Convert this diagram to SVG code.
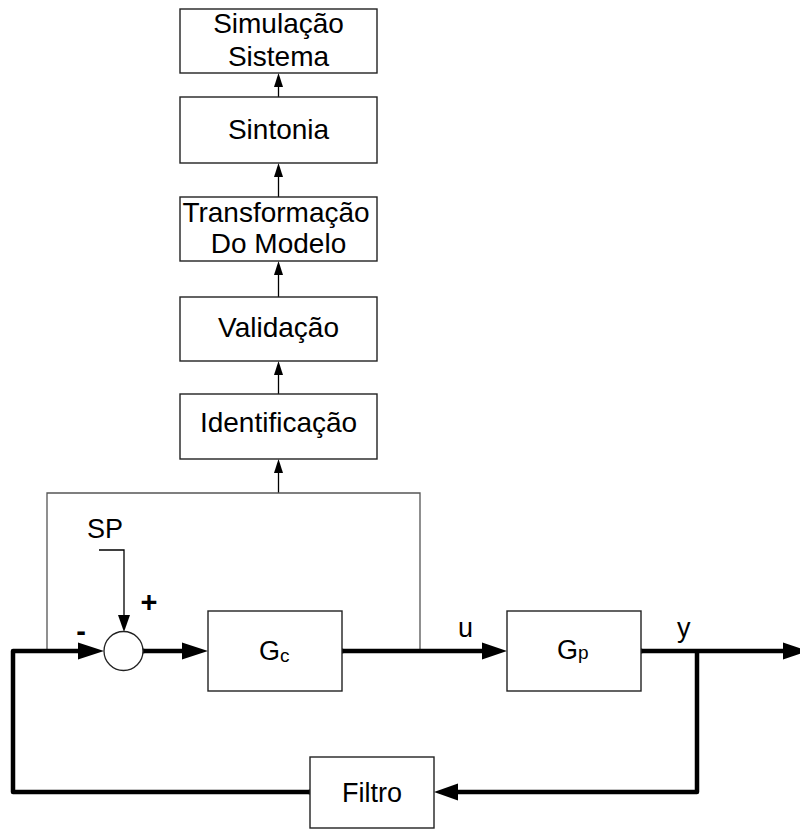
<svg xmlns="http://www.w3.org/2000/svg" width="800" height="830" viewBox="0 0 800 830">
  <style>
    .box { fill: #ffffff; stroke: #222222; stroke-width: 1.4; }
    .lbl { font-family: "Liberation Sans", Arial, sans-serif; font-size: 27px; fill: #000000; }
    .big { font-size: 28px; }
    .mid { text-anchor: middle; }
    .thin { fill: none; stroke: #000000; stroke-width: 1.3; }
    .grey { fill: none; stroke: #555555; stroke-width: 1.3; }
    .thick { fill: none; stroke: #000000; stroke-width: 4.5; stroke-linejoin: round; }
    .head { fill: #000000; }
    .sign { font-family: "Liberation Sans", Arial, sans-serif; font-weight: bold; font-size: 29px; fill: #000000; text-anchor: middle; }
  </style>

  <rect width="800" height="830" fill="#ffffff"/>

  <!-- connectors -->
  <g id="connectors">
    <!-- chain of processing steps (upward arrows) -->
    <line class="thin" x1="278.5" y1="97" x2="278.5" y2="85"/>
    <polygon class="head" points="278.5,73 274,87 283,87"/>
    <line class="thin" x1="278.5" y1="197" x2="278.5" y2="175"/>
    <polygon class="head" points="278.5,163 274,177 283,177"/>
    <line class="thin" x1="278.5" y1="297" x2="278.5" y2="273"/>
    <polygon class="head" points="278.5,261 274,275 283,275"/>
    <line class="thin" x1="278.5" y1="394" x2="278.5" y2="373"/>
    <polygon class="head" points="278.5,361 274,375 283,375"/>
    <line class="thin" x1="278.5" y1="493" x2="278.5" y2="471"/>
    <polygon class="head" points="278.5,459 274,473 283,473"/>

    <!-- data collection frame -->
    <polyline class="grey" points="47,651 47,493 420,493 420,651"/>

    <!-- setpoint input -->
    <polyline class="thin" points="99,550 124,550 124,620"/>
    <polygon class="head" points="124,632 118,615 130,615"/>

    <!-- main loop -->
    <polyline class="thick" points="310,792 13,792 13,651 82,651"/>
    <polygon class="head" points="104,651 78,642.5 78,659.5"/>
    <line class="thick" x1="143" y1="651" x2="186" y2="651"/>
    <polygon class="head" points="208,651 182,642.5 182,659.5"/>
    <line class="thick" x1="342" y1="651" x2="486" y2="651"/>
    <polygon class="head" points="507,651 482,642.5 482,659.5"/>
    <line class="thick" x1="641" y1="651" x2="787" y2="651"/>
    <polygon class="head" points="808,651 783,642.5 783,659.5"/>
    <polyline class="thick" points="697,651 697,792 455,792"/>
    <polygon class="head" points="434,792 458,783.5 458,800.5"/>

    <!-- connection dots -->
    <circle cx="143" cy="651" r="2.5" class="head"/>
    <circle cx="342" cy="651" r="2.5" class="head"/>
    <circle cx="641" cy="651" r="2.5" class="head"/>
    <circle cx="310" cy="792" r="2.5" class="head"/>
  </g>

  <!-- processing steps -->
  <g id="simulacao">
    <rect class="box" x="180" y="9" width="197" height="64"/>
    <text class="lbl big mid" x="278.5" y="33">Simulação</text>
    <text class="lbl big mid" x="278.5" y="66">Sistema</text>
  </g>
  <g id="sintonia">
    <rect class="box" x="180" y="97" width="197" height="66"/>
    <text class="lbl big mid" x="278.5" y="139">Sintonia</text>
  </g>
  <g id="transformacao">
    <rect class="box" x="180" y="197" width="197" height="64"/>
    <text class="lbl big mid" x="276" y="222">Transformação</text>
    <text class="lbl big mid" x="278.5" y="253">Do Modelo</text>
  </g>
  <g id="validacao">
    <rect class="box" x="180" y="297" width="197" height="64"/>
    <text class="lbl big mid" x="278.5" y="337">Validação</text>
  </g>
  <g id="identificacao">
    <rect class="box" x="180" y="394" width="197" height="65"/>
    <text class="lbl big mid" x="278.5" y="432">Identificação</text>
  </g>

  <!-- control loop -->
  <g id="setpoint">
    <text class="lbl" x="87" y="538">SP</text>
  </g>
  <g id="somador">
    <circle cx="123.5" cy="651" r="19.5" fill="#ffffff" stroke="#222222" stroke-width="1.3"/>
    <text class="sign" x="149" y="612">+</text>
    <text class="sign" x="81" y="641">-</text>
  </g>
  <g id="controlador">
    <rect class="box" x="208" y="611" width="134" height="80"/>
    <text class="lbl" x="259" y="660">G<tspan font-size="19" dy="2">c</tspan></text>
  </g>
  <g id="processo">
    <rect class="box" x="507" y="611" width="134" height="80"/>
    <text class="lbl" x="557" y="659">G<tspan font-size="19">p</tspan></text>
  </g>
  <g id="filtro">
    <rect class="box" x="310" y="757" width="124" height="71"/>
    <text class="lbl mid" x="372" y="802">Filtro</text>
  </g>

  <!-- signal labels -->
  <text class="lbl" x="458" y="637">u</text>
  <text class="lbl" x="677" y="637">y</text>
</svg>
